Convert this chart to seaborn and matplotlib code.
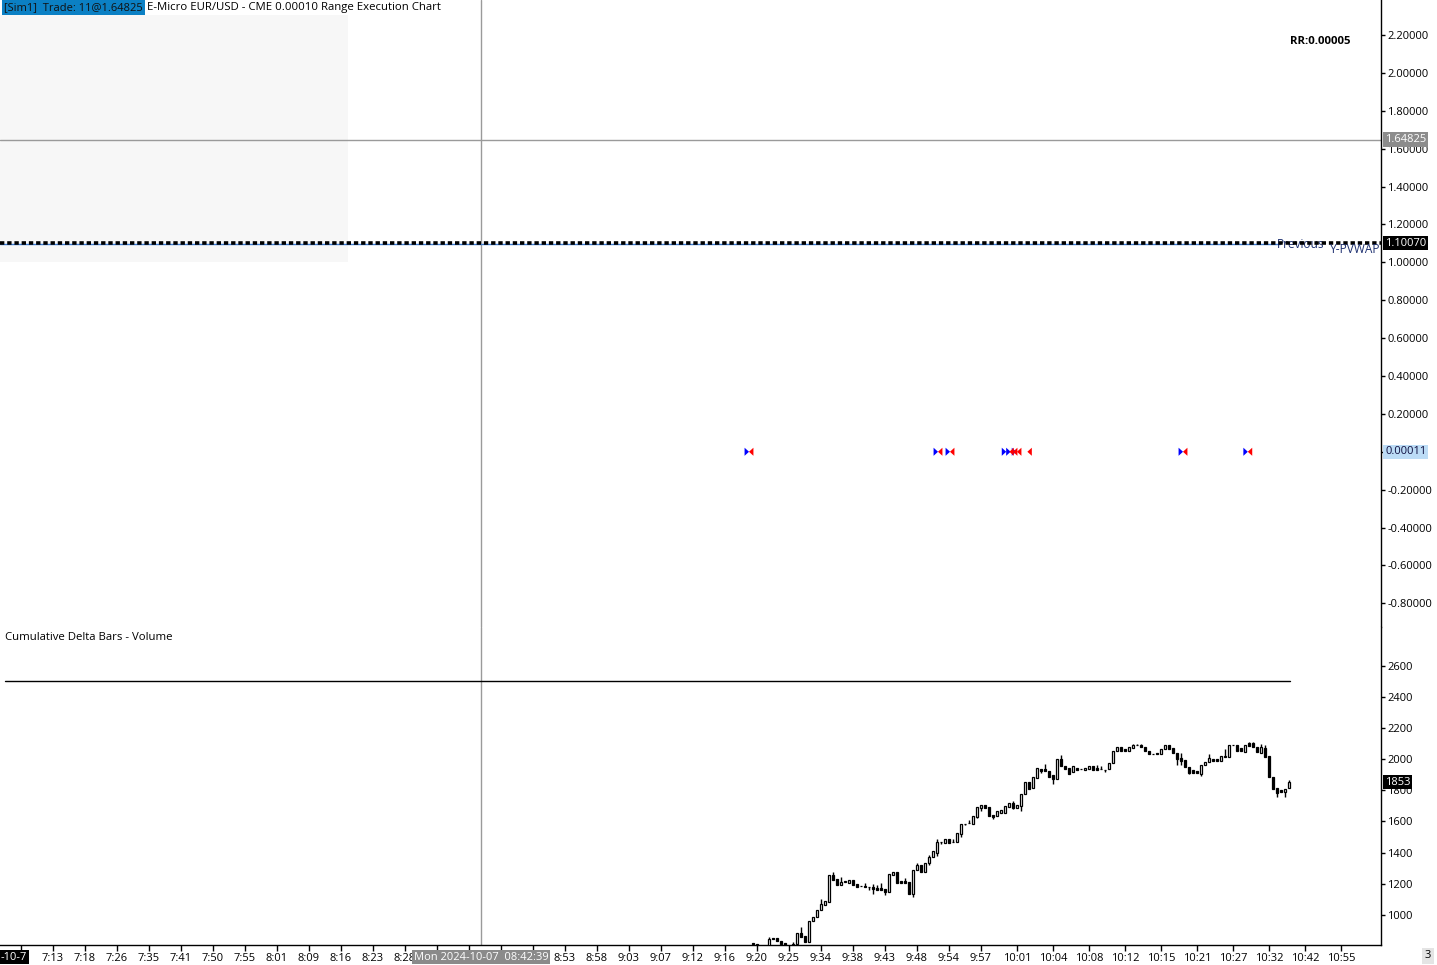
import matplotlib
matplotlib.use("Agg")
import matplotlib.pyplot as plt
import matplotlib.transforms as mtransforms
from matplotlib.patches import Rectangle
from matplotlib.markers import MarkerStyle
import numpy as np
import pandas as pd
import seaborn as sns

# ---------------- data ----------------
# Cumulative delta candles (lower panel), one per bar index
cd_bar = list(range(183, 318))
cd_open = [818, 810, 790, 772, 790, 851, 851, 832, 821, 800,
           790, 812, 881, 864, 827, 958, 988, 1029, 1065, 1082,
           1254, 1230, 1194, 1211, 1206, 1222, 1200, 1184, 1187, 1178,
           1181, 1172, 1172, 1166, 1149, 1258, 1275, 1217, 1217, 1209,
           1136, 1288, 1320, 1277, 1335, 1372, 1394, 1467, 1464, 1486,
           1467, 1468, 1520, 1585, 1587, 1586, 1631, 1689, 1706, 1691,
           1640, 1635, 1653, 1653, 1695, 1717, 1689, 1702, 1775, 1852,
           1817, 1882, 1936, 1936, 1925, 1897, 1871, 2002, 1957, 1942,
           1916, 1946, 1937, 1929, 1936, 1953, 1946, 1937, 1932, 1936,
           1974, 2055, 2077, 2064, 2051, 2073, 2089, 2092, 2077, 2051,
           2033, 2040, 2034, 2064, 2094, 2070, 2042, 2008, 1995, 1950,
           1929, 1927, 1905, 1961, 1981, 2004, 2000, 1991, 2013, 2017,
           2089, 2090, 2070, 2047, 2105, 2103, 2077, 2042, 2073, 2021,
           1888, 1815, 1803, 1790, 1815]
cd_close = [810, 790, 772, 790, 844, 842, 829, 815, 800, 785,
            815, 881, 860, 827, 958, 984, 1029, 1069, 1087, 1254,
            1226, 1194, 1209, 1214, 1222, 1192, 1181, 1182, 1177, 1177,
            1164, 1161, 1161, 1149, 1262, 1275, 1207, 1207, 1207, 1136,
            1288, 1320, 1277, 1335, 1374, 1410, 1466, 1466, 1486, 1464,
            1468, 1524, 1582, 1586, 1588, 1635, 1691, 1706, 1689, 1637,
            1631, 1668, 1672, 1698, 1717, 1689, 1704, 1777, 1852, 1807,
            1886, 1942, 1925, 1921, 1888, 1871, 2002, 1957, 1936, 1905,
            1953, 1931, 1936, 1942, 1953, 1931, 1931, 1936, 1931, 1974,
            2051, 2077, 2055, 2051, 2077, 2090, 2088, 2077, 2051, 2030,
            2032, 2030, 2064, 2090, 2068, 2038, 2004, 1991, 1949, 1914,
            1914, 1910, 1961, 1983, 2008, 1991, 1985, 2019, 2021, 2088,
            2088, 2055, 2055, 2090, 2086, 2077, 2047, 2075, 2017, 1884,
            1811, 1781, 1790, 1811, 1853]
# wick extremes (None = no wick beyond the body)
cd_high = [820, None, None, None, 855, None, None, None, None, None,
           825, None, 921, None, None, None, None, 1102, None, None,
           1275, None, 1243, None, None, None, None, None, 1204, None,
           1198, 1192, 1204, None, None, None, None, None, 1237, None,
           None, 1333, None, None, 1381, None, 1487, None, None, None,
           1489, None, None, None, 1610, None, None, None, None, None,
           None, None, None, None, None, 1732, None, None, None, None,
           None, None, None, 1967, None, None, None, 2024, None, None,
           None, None, None, None, None, None, 1963, 1953, None, None,
           None, None, None, None, None, 2096, 2096, 2098, None, None,
           None, None, None, None, None, None, None, 2038, None, None,
           None, None, None, None, 2034, None, None, None, 2066, None,
           2094, None, None, None, 2111, 2111, None, 2096, 2092, None,
           None, None, None, None, 1867]
cd_low = [806, None, None, None, None, None, None, None, None, None,
          None, None, None, None, None, None, None, None, None, None,
          None, None, None, None, None, None, None, None, None, 1159,
          1136, None, None, 1129, None, None, None, None, None, None,
          1117, None, None, None, 1317, None, 1378, 1455, None, None,
          None, None, 1503, 1576, None, None, 1621, 1670, None, None,
          1618, None, None, None, None, 1679, None, 1670, None, None,
          None, None, 1914, None, None, 1839, None, None, None, None,
          None, None, None, None, None, None, None, None, 1920, None,
          None, None, None, None, None, None, None, None, None, None,
          None, None, None, None, None, None, 1961, 1963, None, 1907,
          None, None, 1894, None, None, None, None, None, None, None,
          None, None, None, None, None, None, None, None, None, None,
          None, 1759, None, 1755, None]

# Execution markers (upper panel)
exec_price = 0.00011
buy_bars = [182.0, 229.25, 232.25, 246.3, 247.4, 248.8, 290.5, 306.7]
sell_bars = [182.0, 229.25, 232.25, 247.1, 248.0, 249.0, 251.6, 290.5, 306.7]

# Price levels (upper panel)
crosshair_price = 1.64825
prev_close_price = 1.10070
y_pvwap_price = 1.0975
delta_level = 2500
crosshair_bar = 115

# Axis ticks
price_ticks = [-0.8, -0.6, -0.4, -0.2, 0.0, 0.2, 0.4, 0.6, 0.8, 1.0,
               1.2, 1.4, 1.6, 1.8, 2.0, 2.2]
delta_ticks = [1000, 1200, 1400, 1600, 1800, 2000, 2200, 2400, 2600]
time_tick_bars = [0, 8, 16, 24, 32, 40, 48, 56, 64, 72, 80, 88, 96, 104,
                  112, 120, 128, 136, 144, 152, 160, 168, 176, 184, 192,
                  200, 208, 216, 224, 232, 240, 249, 258, 267, 276, 285,
                  294, 303, 312, 321, 330]
time_tick_labels = ["", "7:13", "7:18", "7:26", "7:35", "7:41", "7:50",
                    "7:55", "8:01", "8:09", "8:16", "8:23", "8:28", "",
                    "", "", "", "8:53", "8:58", "9:03", "9:07", "9:12",
                    "9:16", "9:20", "9:25", "9:34", "9:38", "9:43",
                    "9:48", "9:54", "9:57", "10:01", "10:04", "10:08",
                    "10:12", "10:15", "10:21", "10:27", "10:32",
                    "10:42", "10:55"]

# ---------------- style ----------------
sns.set_theme(style="white")
plt.rcParams['font.family'] = ['Open Sans', 'DejaVu Sans']
plt.rcParams['axes.facecolor'] = 'white'
FS = 8.2      # general text
FT = 8.0      # tick labels

W, H = 1437, 965
fig = plt.figure(figsize=(W / 100, H / 100), dpi=100)
AX_R = 1381
TOP_BOT = 627
LO_TOP, LO_BOT = 627, 945
ax1 = fig.add_axes([0, 1 - TOP_BOT / H, AX_R / W, TOP_BOT / H])
ax2 = fig.add_axes([0, 1 - LO_BOT / H, AX_R / W, (LO_BOT - LO_TOP) / H], sharex=ax1)

for ax in (ax1, ax2):
    for s in ('left', 'top'):
        ax.spines[s].set_visible(False)
    ax.spines['right'].set_color('black')
    ax.spines['right'].set_linewidth(1)
    ax.yaxis.tick_right()
    ax.tick_params(axis='y', which='both', direction='out', length=3, width=1,
                   pad=1.5, labelsize=FT, colors='black', right=True, left=False)
ax1.spines['bottom'].set_visible(False)
ax2.spines['bottom'].set_color('black')
ax2.spines['bottom'].set_linewidth(1)

ax1.set_xlim(-5.25, 340)
ax1.set_ylim(-0.925, 2.385)
ax2.set_ylim(806, 2849)

# ---------------- upper panel ----------------
ax1.add_patch(Rectangle((0, (TOP_BOT - 262) / TOP_BOT), 348 / AX_R, 247 / TOP_BOT,
                        transform=ax1.transAxes, facecolor='#f7f7f7',
                        edgecolor='none', zorder=0))
ax1.axhline(crosshair_price, color='#9a9a9a', lw=1, zorder=1)
ax1.axhline(y_pvwap_price, xmin=0, xmax=1280 / AX_R, color='#3a7bd5', lw=1, zorder=2)
ax1.axhline(prev_close_price, color='black', lw=2.6, ls=(0, (1.2, 0.8)), zorder=3)
ax1.axvline(crosshair_bar, color='#9a9a9a', lw=1, zorder=1)

mk_buy = MarkerStyle([(-0.55, 1), (0.55, 0), (-0.55, -1), (-0.55, 1)])
mk_sell = MarkerStyle([(0.55, 1), (-0.55, 0), (0.55, -1), (0.55, 1)])
ex_df = pd.DataFrame({
    'bar': [b - 0.55 for b in buy_bars] + [b + 0.55 for b in sell_bars],
    'price': [exec_price] * (len(buy_bars) + len(sell_bars)),
    'side': ['Buy'] * len(buy_bars) + ['Sell'] * len(sell_bars),
})
sns.scatterplot(data=ex_df, x='bar', y='price', hue='side', style='side',
                markers={'Buy': mk_buy, 'Sell': mk_sell},
                palette={'Buy': '#0000ff', 'Sell': '#ff0000'},
                s=34, linewidth=0, legend=False, ax=ax1, zorder=5)

ax1.set_yticks(price_ticks)
# the 0.00000 label is hidden under the execution price label
ax1.set_yticklabels(["" if v == 0 else f"{v:.5f}" for v in price_ticks])
ax1.tick_params(axis='x', which='both', bottom=False, labelbottom=False)
ax1.set_xlabel('')
ax1.set_ylabel('')

blend1 = mtransforms.blended_transform_factory(ax1.transAxes, ax1.transData)
lab_x = 1 + 4 / AX_R
ax1.text(lab_x, crosshair_price, "1.64825", transform=blend1, ha='left', va='center',
         fontsize=FT, color='white', zorder=20, clip_on=False,
         bbox=dict(facecolor='#8c8c8c', edgecolor='none', pad=1.2))
ax1.text(lab_x, prev_close_price, "1.10070", transform=blend1, ha='left', va='center',
         fontsize=FT, color='white', zorder=20, clip_on=False,
         bbox=dict(facecolor='black', edgecolor='none', pad=1.2))
ax1.text(lab_x, exec_price, "0.00011", transform=blend1, ha='left', va='center',
         fontsize=FT, color='#101040', zorder=20, clip_on=False,
         bbox=dict(facecolor='#bcdcf6', edgecolor='none', pad=1.2))

ax1.text(1277 / AX_R, prev_close_price - 0.004, "Previous", transform=blend1,
         ha='left', va='center', fontsize=8.6, color='#1c2f70', zorder=2.5)
ax1.text(1 - 1 / AX_R, 1.07, "Y-PVWAP", transform=blend1,
         ha='right', va='center', fontsize=8.6, color='#1c2f70', zorder=6)
ax1.text(1290 / AX_R, (TOP_BOT - 42) / TOP_BOT, "RR:0.00005", transform=ax1.transAxes,
         ha='left', va='center', fontsize=FS, fontweight='bold', color='black')

# ---------------- lower panel ----------------
hi = [h if h is not None else max(o, c) for h, o, c in zip(cd_high, cd_open, cd_close)]
lo = [l if l is not None else min(o, c) for l, o, c in zip(cd_low, cd_open, cd_close)]
ax2.vlines(cd_bar, lo, hi, color='black', lw=1, zorder=2)
bottoms = [min(o, c) for o, c in zip(cd_open, cd_close)]
heights = [max(abs(c - o), 1.0) for o, c in zip(cd_open, cd_close)]
faces = ['white' if c > o else 'black' for o, c in zip(cd_open, cd_close)]
ax2.bar(cd_bar, heights, bottom=bottoms, width=0.66, color=faces,
        edgecolor='black', linewidth=0.9, zorder=3)

ax2.axhline(delta_level, xmin=5 / AX_R, xmax=1290 / AX_R, color='black', lw=1, zorder=2)
ax2.axvline(crosshair_bar, color='#9a9a9a', lw=1, zorder=1)

ax2.set_yticks(delta_ticks)
ax2.set_yticklabels([str(v) for v in delta_ticks])
ax2.set_xticks(time_tick_bars)
ax2.set_xticklabels(time_tick_labels)
ax2.tick_params(axis='x', which='both', direction='out', length=4, width=1, pad=2,
                labelsize=FT, colors='black', bottom=True)
ax2.set_xlabel('')
ax2.set_ylabel('')

blend2 = mtransforms.blended_transform_factory(ax2.transAxes, ax2.transData)
ax2.text(lab_x, cd_close[-1], str(cd_close[-1]), transform=blend2, ha='left',
         va='center', fontsize=FT, color='white', zorder=20, clip_on=False,
         bbox=dict(facecolor='black', edgecolor='none', pad=1.4))
ax2.text(5 / AX_R, (LO_BOT - 637) / (LO_BOT - LO_TOP), "Cumulative Delta Bars - Volume",
         transform=ax2.transAxes, ha='left', va='center', fontsize=FS, color='black')

# crosshair time label on the time axis
blend_x = mtransforms.blended_transform_factory(ax2.transData, fig.transFigure)
ax2.text(crosshair_bar, 1 - 957 / H, "Mon 2024-10-07  08:42:39", transform=blend_x,
         ha='center', va='center', fontsize=FT, color='white', zorder=30, clip_on=False,
         bbox=dict(facecolor='#8a8a8a', edgecolor='none', pad=1.3))

# ---------------- figure-level texts ----------------
fig.patches.append(Rectangle((2 / W, 1 - 15 / H), 143 / W, 15 / H,
                             transform=fig.transFigure, facecolor='#0b80c4',
                             edgecolor='none', zorder=5))
fig.text(4 / W, 1 - 7.5 / H, "[Sim1]  Trade: 11@1.64825", ha='left', va='center',
         fontsize=8.0, color='#111111', zorder=6)
fig.text(147 / W, 1 - 7.5 / H, "E-Micro EUR/USD - CME 0.00010 Range Execution Chart",
         ha='left', va='center', fontsize=FS, color='black', zorder=6)
fig.text(1 / W, 1 - 957 / H, "-10-7", ha='left', va='center', fontsize=FT,
         color='white', zorder=6,
         bbox=dict(facecolor='black', edgecolor='none', pad=1.3))
fig.text(1428 / W, 1 - 956 / H, "3", ha='center', va='center', fontsize=FT,
         color='black', zorder=6,
         bbox=dict(facecolor='#e4e4e4', edgecolor='none', pad=2))

fig.savefig('out.png', dpi=100)
